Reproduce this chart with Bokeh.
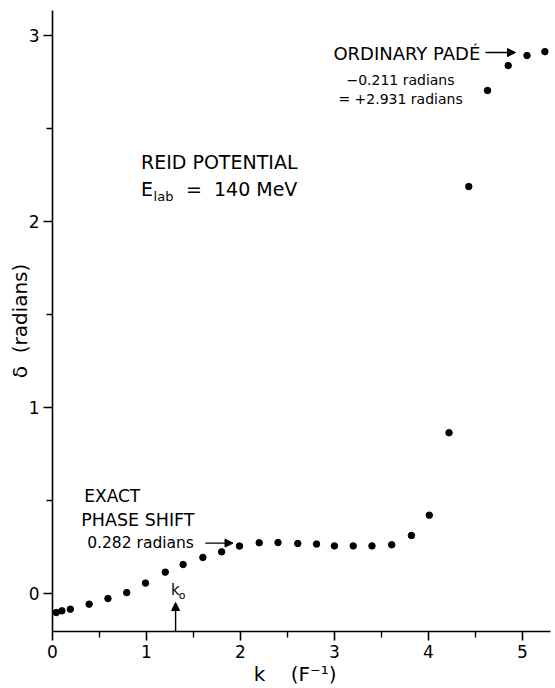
from bokeh.plotting import figure
from bokeh.models import Label, Arrow, NormalHead, Range1d, FixedTicker
from bokeh.embed import file_html
from bokeh.resources import INLINE

# ---- data ----
k_values = [0.04, 0.10, 0.19, 0.39, 0.59, 0.79, 0.99, 1.20, 1.39, 1.60,
            1.80, 1.99, 2.20, 2.40, 2.61, 2.81, 3.00, 3.20, 3.40, 3.61,
            3.82, 4.01, 4.22, 4.43, 4.63, 4.85, 5.05, 5.24]
delta_values = [-0.102, -0.093, -0.084, -0.057, -0.027, 0.005, 0.056, 0.115,
                0.156, 0.194, 0.224, 0.255, 0.273, 0.274, 0.269, 0.266,
                0.256, 0.256, 0.256, 0.262, 0.312, 0.421, 0.864, 2.187,
                2.703, 2.837, 2.891, 2.912]
x_ticks = [0, 1, 2, 3, 4, 5]
y_ticks = [0, 1, 2, 3]
k0 = 1.31

FONT = "DejaVu Sans"
NB = "\u00a0"

# pixel -> data helpers for annotation placement
X0_PX, XS = 52.3, 93.9
Y0_PX, YS = 592.7, 186.0


def dx(px):
    return (px - X0_PX) / XS


def dy(py):
    return (Y0_PX - py) / YS


p = figure(width=555, height=688, output_backend="svg", toolbar_location=None,
           x_range=Range1d(0, 5.3), y_range=Range1d(-0.204, 3.133),
           min_border_left=52, min_border_right=5, min_border_top=10,
           min_border_bottom=57)
p.grid.visible = False
p.outline_line_color = None
p.background_fill_color = "white"
p.border_fill_color = "white"

p.xaxis.ticker = FixedTicker(ticks=x_ticks, minor_ticks=[t + 0.5 for t in x_ticks])
p.yaxis.ticker = FixedTicker(ticks=y_ticks, minor_ticks=[t + 0.5 for t in y_ticks])
for ax in (p.xaxis, p.yaxis):
    ax.axis_line_width = 1.6
    ax.axis_line_color = "black"
    ax.major_tick_line_width = 1.6
    ax.minor_tick_line_width = 1.4
    ax.major_tick_line_color = "black"
    ax.minor_tick_line_color = "black"
    ax.major_tick_in = 0
    ax.major_tick_out = 9
    ax.minor_tick_in = 0
    ax.minor_tick_out = 6
    ax.major_label_text_font = FONT
    ax.major_label_text_font_size = "17px"
    ax.major_label_text_color = "black"
    ax.major_label_standoff = 4
    ax.axis_label_text_font = FONT
    ax.axis_label_text_font_style = "normal"
    ax.axis_label_text_color = "black"

p.xaxis.axis_label = "k" + NB * 4 + "(F\u207b\u00b9)" + NB * 2
p.xaxis.axis_label_text_font_size = "20px"
p.xaxis.axis_label_standoff = 1
p.yaxis.axis_label = "\u03b4" + NB * 2 + "(radians)"
p.yaxis.axis_label_text_font_size = "20px"
p.yaxis.axis_label_standoff = -6

p.scatter(k_values, delta_values, size=6.5, color="black")


def lab(text, px, py, size, align="left", angle=0):
    p.add_layout(Label(x=dx(px), y=dy(py), text=text, text_font=FONT,
                       text_font_size=size, text_color="black",
                       text_align=align, text_baseline="middle", angle=angle))


lab("ORDINARY PADÉ", 333, 53, "18px")
lab("\u22120.211 radians", 346, 79.5, "14px")
lab("= +2.931 radians", 338, 98, "14px")
lab("REID POTENTIAL", 140.7, 161.3, "19px")
lab("E", 140.7, 188, "19px")
lab("lab", 153.3, 196, "13px")
lab("=" + NB * 2 + "140 MeV", 185.7, 188, "19px")
lab("EXACT", 112, 495, "17px", align="center")
lab("PHASE SHIFT", 81, 519, "17.5px")
lab("0.282 radians", 87, 541.7, "15.5px")
lab("k", 170.7, 589, "15px")
lab("o", 178.5, 595, "11px")


def arrow(x0, y0, x1, y1):
    p.add_layout(Arrow(end=NormalHead(size=8, fill_color="black", line_color="black"),
                       x_start=x0, y_start=y0, x_end=x1, y_end=y1,
                       line_color="black", line_width=1.4))


arrow(dx(485), dy(52), dx(515), dy(52))
arrow(dx(205), dy(542.3), dx(232.7), dy(542.3))
arrow(k0, -0.204, k0, dy(601.7))

open("out.html", "w").write(file_html(p, INLINE))
